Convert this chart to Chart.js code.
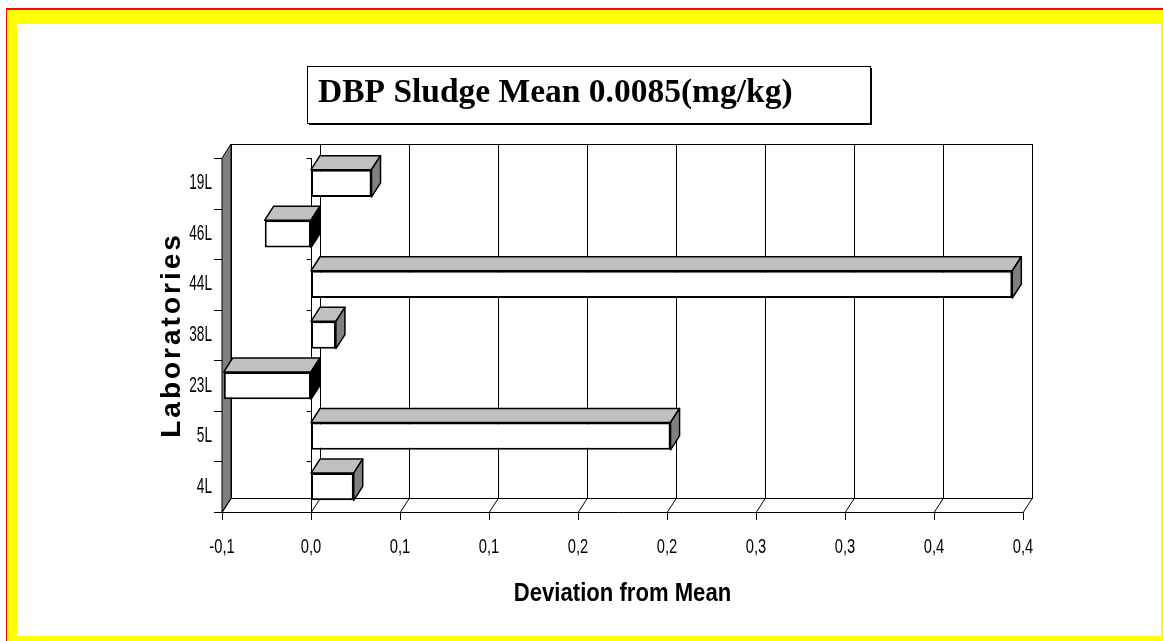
<!DOCTYPE html>
<html>
<head>
<meta charset="utf-8">
<script src="https://cdn.jsdelivr.net/npm/chart.js@4.4.1/dist/chart.umd.min.js"></script>
<style>
  html, body { margin: 0; padding: 0; background: #fff; }
  canvas { display: block; }
</style>
</head>
<body>
<canvas id="devChart" width="1163" height="641"></canvas>
<script>
// laboratories, bottom to top
const labs = ['4L', '5L', '23L', '38L', '44L', '46L', '19L'];
const deviations = [0.024, 0.202, -0.049, 0.014, 0.394, -0.026, 0.034];
const xMin = -0.05;
const xMax = 0.4;
const xStep = 0.05;

const chartTitle = 'DBP Sludge Mean 0.0085(mg/kg)';
const xTitle = 'Deviation from Mean';
const yTitle = 'Laboratories';

const sans = "'Liberation Sans', Arial, sans-serif";
const DX = 9, DY = 14; // offset of the back plane

// one decimal, comma separator, halves rounded away from zero
const fmt = v => {
  const r = Math.sign(v) * Math.round(Math.abs(v) * 10 + 1e-9) / 10;
  return r.toFixed(1).replace('.', ',');
};

function crisp(v) { return Math.round(v) + 0.5; }

function line(ctx, x1, y1, x2, y2) {
  ctx.beginPath(); ctx.moveTo(x1, y1); ctx.lineTo(x2, y2); ctx.stroke();
}

function poly(ctx, pts, fill) {
  ctx.beginPath();
  pts.forEach(([x, y], i) => i ? ctx.lineTo(x, y) : ctx.moveTo(x, y));
  ctx.closePath();
  if (fill) { ctx.fillStyle = fill; ctx.fill(); }
  ctx.stroke();
}

// narrow lettering: ordinary sans squeezed horizontally
function squeeze(ctx, text, x, y, sx, align) {
  ctx.save();
  ctx.translate(x, y);
  ctx.scale(sx, 1);
  ctx.textAlign = align;
  ctx.fillText(text, 0, 0);
  ctx.restore();
}

const frame3d = {
  id: 'frame3d',
  beforeDraw(chart) {
    const ctx = chart.ctx, W = chart.width, H = chart.height;
    ctx.save();
    ctx.fillStyle = '#ff0000'; ctx.fillRect(6, 8, W - 6, H - 8);
    ctx.fillStyle = '#ffff00'; ctx.fillRect(7, 10, W - 7, H - 10);
    ctx.fillStyle = '#ffffff'; ctx.fillRect(17, 24, 1144, 612);
    ctx.restore();
  },
  beforeDatasetsDraw(chart) {
    const {ctx, chartArea: a, scales: {x}} = chart;
    const L = a.left, R = a.right, T = a.top, B = a.bottom;
    ctx.save();
    ctx.strokeStyle = '#000'; ctx.lineWidth = 1;
    // back wall
    ctx.fillStyle = '#fff';
    ctx.fillRect(L + DX, T - DY, R - L, B - T);
    ctx.strokeRect(crisp(L + DX), crisp(T - DY), R - L, B - T);
    // gridlines on the back wall, floor lines and tick marks
    x.ticks.forEach(t => {
      const px = crisp(x.getPixelForValue(t.value));
      line(ctx, px + DX, T - DY, px + DX, B - DY);
      line(ctx, px, B, px + DX, B - DY);
      line(ctx, px, B, px, B + 8);
    });
    line(ctx, L - 8, crisp(B), R, crisp(B));
    // side wall
    poly(ctx, [[L, T], [L + DX, T - DY], [L + DX, B - DY], [L, B]], '#808080');
    // category ticks and the zero line
    const z = crisp(x.getPixelForValue(0));
    line(ctx, z, T, z, B);
    const band = (B - T) / labs.length;
    for (let i = 0; i <= labs.length; i++) {
      const py = crisp(T + i * band);
      line(ctx, L - 8, py, L, py);
      line(ctx, z - 5, py, z, py);
    }
    ctx.restore();
  },
  afterDatasetsDraw(chart) {
    const ctx = chart.ctx;
    const meta = chart.getDatasetMeta(0);
    ctx.save();
    ctx.strokeStyle = '#000'; ctx.lineWidth = 1.5; ctx.lineJoin = 'round';
    meta.data.forEach((bar, i) => {
      const {x, y, base, height} = bar.getProps(['x', 'y', 'base', 'height'], true);
      const l = Math.min(x, base), r = Math.max(x, base);
      const t = y - height / 2, b = y + height / 2;
      poly(ctx, [[l, t], [l + DX, t - DY], [r + DX, t - DY], [r, t]], '#c0c0c0');
      poly(ctx, [[r, t], [r + DX, t - DY], [r + DX, b - DY], [r, b]],
        deviations[i] < 0 ? '#000' : '#808080');
    });
    ctx.restore();
  },
  afterDraw(chart) {
    const {ctx, chartArea: a, scales: {x, y}} = chart;
    ctx.save();
    ctx.fillStyle = '#000';
    ctx.textBaseline = 'middle';

    // tick labels
    ctx.font = '21px ' + sans;
    x.ticks.forEach(t => squeeze(ctx, fmt(t.value), x.getPixelForValue(t.value), 547, 0.7, 'center'));
    ctx.font = '22px ' + sans;
    labs.forEach((lab, i) => squeeze(ctx, lab, a.left - 10, y.getPixelForValue(i), 0.62, 'right'));

    // x axis title
    ctx.font = 'bold 26px ' + sans;
    squeeze(ctx, xTitle, (a.left + a.right) / 2, 594, 0.85, 'center');

    // title box with shadow
    ctx.fillRect(309, 68, 563, 57);
    ctx.fillStyle = '#fff';
    ctx.fillRect(307, 66, 563, 57);
    ctx.strokeStyle = '#000'; ctx.lineWidth = 1;
    ctx.strokeRect(307.5, 66.5, 563, 57);
    ctx.fillStyle = '#000';
    ctx.font = "bold 33.5px 'Liberation Serif', 'Times New Roman', serif";
    ctx.textBaseline = 'alphabetic';
    ctx.textAlign = 'left';
    ctx.fillText(chartTitle, 318, 102);

    // y axis title, spaced out
    ctx.textAlign = 'center';
    ctx.textBaseline = 'middle';
    ctx.translate(172, (a.top + a.bottom) / 2);
    ctx.rotate(-Math.PI / 2);
    ctx.font = 'bold 28px ' + sans;
    ctx.letterSpacing = '3px';
    ctx.fillText(yTitle, 0, 0);
    ctx.restore();
  }
};

new Chart(document.getElementById('devChart'), {
  type: 'bar',
  data: {
    labels: labs,
    datasets: [{
      data: deviations,
      backgroundColor: '#fff',
      borderColor: '#000',
      borderWidth: 2,
      borderSkipped: false,
      barPercentage: 0.54,
      categoryPercentage: 1
    }]
  },
  options: {
    indexAxis: 'y',
    responsive: false,
    animation: false,
    devicePixelRatio: 1,
    layout: { padding: { left: 17, right: 140, top: 158, bottom: 5 } },
    plugins: { legend: { display: false }, tooltip: { enabled: false } },
    scales: {
      x: {
        min: xMin,
        max: xMax,
        grid: { display: false, drawTicks: false },
        border: { display: false },
        ticks: { stepSize: xStep, autoSkip: false, display: false },
        afterFit: s => { s.height = 124; }
      },
      y: {
        reverse: true,
        grid: { display: false, drawTicks: false },
        border: { display: false },
        ticks: { display: false },
        afterFit: s => { s.width = 205; }
      }
    }
  },
  plugins: [frame3d]
});
</script>
</body>
</html>
